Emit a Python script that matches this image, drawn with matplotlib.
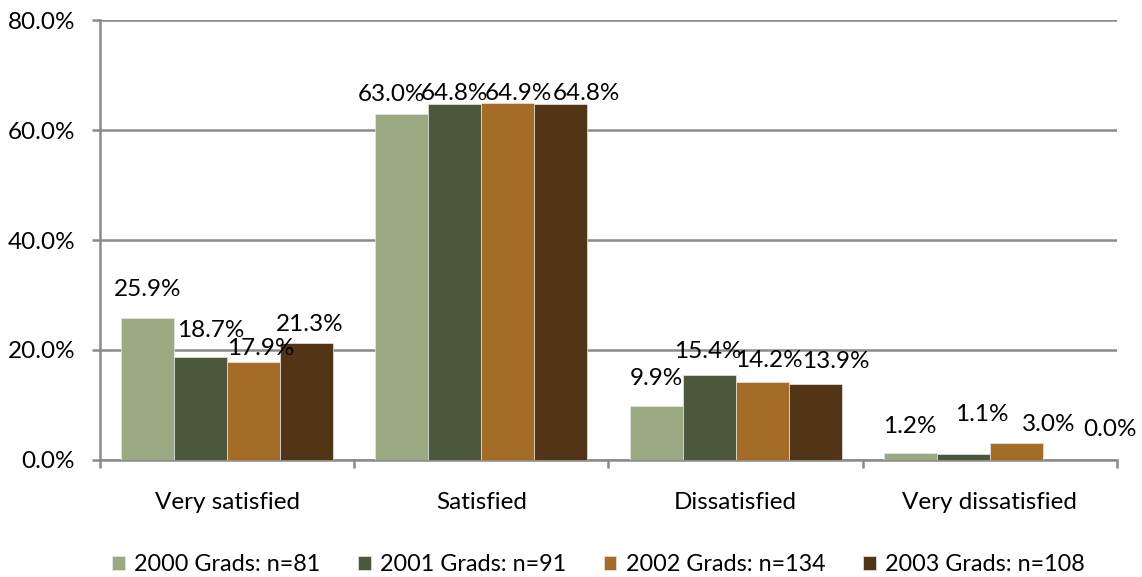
import matplotlib
matplotlib.use("Agg")
import matplotlib.pyplot as plt
import numpy as np
from matplotlib.ticker import FuncFormatter, FixedLocator

plt.rcParams['font.family'] = ['Lato', 'DejaVu Sans']

categories = ["Very satisfied", "Satisfied", "Dissatisfied", "Very dissatisfied"]
series_names = ["2000 Grads: n=81", "2001 Grads: n=91", "2002 Grads: n=134", "2003 Grads: n=108"]
grads_2000 = [25.9, 63.0, 9.9, 1.2]
grads_2001 = [18.7, 64.8, 15.4, 1.1]
grads_2002 = [17.9, 64.9, 14.2, 3.0]
grads_2003 = [21.3, 64.8, 13.9, 0.0]
y_ticks = [0, 20, 40, 60, 80]

series = [grads_2000, grads_2001, grads_2002, grads_2003]
colors = ["#9BA982", "#4B583C", "#A56C27", "#523517"]

# label nudges (pixels right / up from the top centre of each bar), per series then category
label_nudge = [
    [(0, 28), (-10, 19), (0, 27), (0, 27)],
    [(10, 27), (0, 10), (-1, 24), (19, 39)],
    [(7, 13), (11, 10), (7, 21), (32, 19)],
    [(3, 18), (26, 10), (21, 22), (41, 30)],
]

FS = 17.5

fig = plt.figure(figsize=(11.42, 5.77), dpi=100)
ax = fig.add_axes([0.0876, 0.2028, 0.978 - 0.0876, 0.9653 - 0.2028])

x = np.arange(len(categories))
w = 0.2085
grid_c = "#8A8A8A"

for i, (vals, col) in enumerate(zip(series, colors)):
    xs = x + (i - 1.5) * w
    bars = ax.bar(xs, vals, width=w, color=col, edgecolor="#E6E6E6", linewidth=0.5,
                  label=series_names[i], zorder=3)
    for j, (b, v) in enumerate(zip(bars, vals)):
        dx, dy = label_nudge[i][j]
        ax.annotate(f"{v:.1f}%", (b.get_x() + b.get_width() / 2, v),
                    xytext=(dx * 0.72, dy * 0.72), textcoords="offset points",
                    ha="center", va="center", fontsize=FS, color="black", zorder=4)

ax.set_xlim(-0.5, len(categories) - 0.5)
ax.set_ylim(0, 80)
ax.set_yticks(y_ticks)
ax.yaxis.set_major_formatter(FuncFormatter(lambda v, p: f"{v:.1f}%"))
ax.yaxis.grid(True, color=grid_c, linewidth=1.8, zorder=0)
ax.set_axisbelow(True)

ax.set_xticks(x)
ax.set_xticklabels(categories, fontsize=FS)
ax.xaxis.set_minor_locator(FixedLocator(np.arange(-0.5, len(categories), 1.0)))
ax.tick_params(axis="x", which="major", length=0, pad=23)
ax.tick_params(axis="x", which="minor", length=6, width=1.8, color=grid_c)
ax.tick_params(axis="y", length=6, width=1.8, color=grid_c, pad=12, labelsize=FS)

for s in ["top", "right"]:
    ax.spines[s].set_visible(False)
for s in ["left", "bottom"]:
    ax.spines[s].set_color(grid_c)
    ax.spines[s].set_linewidth(1.8)

fig.legend(loc="center", bbox_to_anchor=(0.524, 0.022), ncol=4, frameon=False,
           fontsize=16.8, handlelength=0.55, handleheight=0.55, handletextpad=0.4,
           columnspacing=1.6, borderaxespad=0)

fig.savefig("out.png", dpi=100)
